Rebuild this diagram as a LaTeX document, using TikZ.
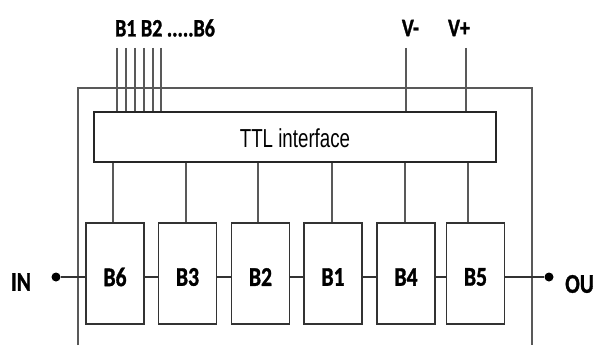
\documentclass[tikz,border=0pt]{standalone}
\usepackage{fontspec}
\newfontfamily\labfont{Carlito}[FakeStretch=0.8,UprightFont=* Bold,BoldFont=* Bold,FakeBold=1.2]
\newfontfamily\ttlfont{Liberation Sans}[FakeStretch=0.72]
\begin{document}
\begin{tikzpicture}[x=1pt,y=-1pt,
  thinline/.style={draw=black!65,line width=1.1pt},
  blockbox/.style={draw=black!80,line width=1.8pt,minimum width=58pt,minimum height=101pt,inner sep=0pt},
  ttlbox/.style={draw=black!85,line width=1.6pt,minimum width=402pt,minimum height=50pt,inner sep=0pt},
  link/.style={draw=black!80,line width=1.8pt},
  lab/.style={font=\labfont\fontsize{27}{27}\selectfont,inner sep=0pt,text=black},
  toplab/.style={font=\labfont\fontsize{25}{25}\selectfont,inner sep=0pt,text=black},
  pin/.style={circle,fill=black,inner sep=0pt,minimum size=9pt}]
\useasboundingbox[fill=white] (0,0) rectangle (593,345);
% outer frame (open at bottom)
\coordinate (fbl) at (78,345);
\coordinate (ftl) at (78,88);
\coordinate (ftr) at (532,88);
\coordinate (fbr) at (532,345);
\draw[thinline] (fbl) -- (ftl) -- (ftr) -- (fbr);
% TTL interface
\node[ttlbox] (ttl) at (295,137) {};
\node[font=\ttlfont\fontsize{26}{26}\selectfont,inner sep=0pt] (ttltext) at (295,138) {TTL interface};
% blocks
\node[blockbox] (b6) at (115,273.5) {};
\node[blockbox] (b3) at (187.5,273.5) {};
\node[blockbox] (b2) at (260.5,273.5) {};
\node[blockbox] (b1) at (333,273.5) {};
\node[blockbox] (b4) at (406,273.5) {};
\node[blockbox] (b5) at (475.5,273.5) {};
\node[lab] (t6) at (115,277) {B6};
\node[lab] (t3) at (187.5,277) {B3};
\node[lab] (t2) at (260.5,277) {B2};
\node[lab] (t1) at (333,277) {B1};
\node[lab] (t4) at (406,277) {B4};
\node[lab] (t5) at (475.5,277) {B5};
% TTL to blocks
\draw[thinline] ([xshift=-2pt]b6.north) -- ([xshift=-2pt]b6.north |- ttl.south);
\draw[thinline] ([xshift=-1.5pt]b3.north) -- ([xshift=-1.5pt]b3.north |- ttl.south);
\draw[thinline] ([xshift=-2.5pt]b2.north) -- ([xshift=-2.5pt]b2.north |- ttl.south);
\draw[thinline] ([xshift=-1pt]b1.north) -- ([xshift=-1pt]b1.north |- ttl.south);
\draw[thinline] ([xshift=-1pt]b4.north) -- ([xshift=-1pt]b4.north |- ttl.south);
\draw[thinline] ([xshift=-7.5pt]b5.north) -- ([xshift=-7.5pt]b5.north |- ttl.south);
% chain
\draw[link] ([yshift=-3.5pt]b6.east) -- ([yshift=-3.5pt]b3.west);
\draw[link] ([yshift=-3.5pt]b3.east) -- ([yshift=-3.5pt]b2.west);
\draw[link] ([yshift=-3.5pt]b2.east) -- ([yshift=-3.5pt]b1.west);
\draw[link] ([yshift=-3.5pt]b1.east) -- ([yshift=-3.5pt]b4.west);
\draw[link] ([yshift=-3.5pt]b4.east) -- ([yshift=-3.5pt]b5.west);
% IN / OUT
\node[pin] (inpin) at (56,277) {};
\node[pin] (outpin) at (549,277) {};
\draw[link] (inpin) -- ([yshift=-3.5pt]b6.west);
\draw[link] ([yshift=-3.5pt]b5.east) -- (outpin);
\node[lab] (inlab) at (21,282) {IN};
\node[lab,anchor=west] (outlab) at (565,284) {OU};
% top labels and lines
\node[toplab] (buslab) at (165,28) {B1 B2 .....B6};
\node[toplab] (vmlab) at (410.5,28) {V-};
\node[toplab] (vplab) at (459,28) {V+};
\foreach \x [count=\i] in {117,126,135,144,153,161}{
  \coordinate (bus\i) at (\x,48);
  \draw[thinline] (bus\i) -- (bus\i |- ttl.north);
}
\coordinate (vmtop) at (406,48);
\coordinate (vptop) at (466,48);
\draw[thinline] (vmtop) -- (vmtop |- ttl.north);
\draw[thinline] (vptop) -- (vptop |- ttl.north);
\end{tikzpicture}
\end{document}
